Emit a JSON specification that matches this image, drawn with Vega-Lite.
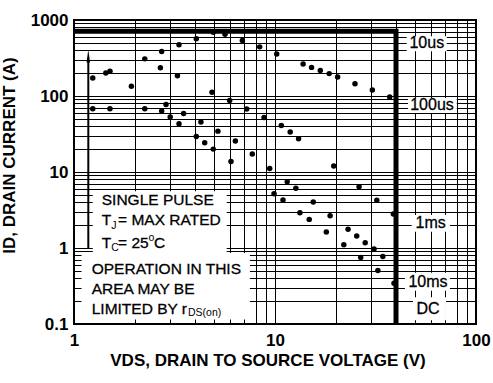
{
  "$schema": "https://vega.github.io/schema/vega-lite/v6.json",
  "width": 402,
  "height": 304,
  "autosize": {"type": "none"},
  "padding": {"left": 74, "top": 20, "right": 17, "bottom": 59},
  "background": "white",
  "config": {
    "view": {"stroke": "#000", "strokeWidth": 2},
    "font": "Liberation Sans",
    "axis": {
      "domain": false, "ticks": false, "tickSize": 0,
      "grid": true, "gridColor": "#000", "gridWidth": 1, "gridOpacity": 1,
      "labelFont": "Liberation Sans", "labelFontSize": 17, "labelFontWeight": "bold", "labelColor": "#000",
      "labelOverlap": false, "labelFlush": false, "labelBound": false,
      "titleFont": "Liberation Sans", "titleFontWeight": "bold", "titleColor": "#000"
    }
  },
  "datasets": {
    "pts": [
      {"V":1.24,"I":173},{"V":1.44,"I":201},{"V":1.51,"I":211},{"V":1.93,"I":134},{"V":2.25,"I":308},{"V":2.73,"I":384},{"V":2.69,"I":236},{"V":3.33,"I":471},{"V":3.27,"I":185},{"V":4.06,"I":565},{"V":4.93,"I":690},{"V":5.64,"I":650},
      {"V":1.24,"I":68},{"V":1.51,"I":68},{"V":2.25,"I":68},{"V":2.87,"I":77.5},{"V":2.73,"I":63.4},{"V":3.01,"I":52.8},{"V":3.51,"I":58.9},{"V":3.33,"I":43.1},{"V":4.86,"I":112},{"V":4.28,"I":45.4},{"V":4.06,"I":29.3},{"V":5.2,"I":34.5},{"V":5.95,"I":87.5},{"V":4.47,"I":24.2},{"V":4.93,"I":20},
      {"V":6.88,"I":537},{"V":8.39,"I":443},{"V":10.2,"I":358},{"V":13.8,"I":264},{"V":15.2,"I":238},{"V":16.8,"I":216},{"V":18.6,"I":197},{"V":20.5,"I":178},{"V":25,"I":145},{"V":30.5,"I":120},{"V":37.2,"I":97},
      {"V":7.23,"I":67.4},{"V":8.82,"I":52.2},{"V":10.75,"I":40.9},{"V":11.9,"I":33.5},{"V":13.1,"I":27.3},{"V":6.35,"I":25.5},{"V":7.71,"I":17.2},{"V":6.04,"I":13.7},{"V":9.41,"I":11.1},{"V":19.6,"I":12},
      {"V":11.5,"I":7.47},{"V":12.7,"I":6.11},{"V":26.2,"I":6.42},{"V":9.89,"I":5.19},{"V":10.96,"I":4.28},{"V":15.5,"I":4.03},{"V":32.1,"I":4.25},{"V":13.3,"I":2.91},{"V":14.8,"I":2.38},{"V":18.8,"I":2.66},{"V":38.8,"I":2.8},
      {"V":18,"I":1.62},{"V":23.1,"I":1.76},{"V":25.5,"I":1.44},{"V":28.1,"I":1.17},{"V":22,"I":1.1},{"V":31.1,"I":0.967},{"V":34.4,"I":0.775},{"V":26.7,"I":0.752},{"V":32.5,"I":0.506},{"V":39.1,"I":0.344}
    ],
    "limit": [{"V":1,"I":710,"o":1},{"V":40,"I":710,"o":2},{"V":40,"I":0.1,"o":3}],
    "boxes": [
      {"V":1.24,"V2":5.75,"I":0.857,"I2":5.6},
      {"V":1.09,"V2":7.5,"I":0.115,"I2":0.857},
      {"V":45.2,"V2":71.5,"I":387,"I2":611},
      {"V":45.9,"V2":80.2,"I":59.7,"I2":94.1},
      {"V":47.9,"V2":74.2,"I":1.64,"I2":2.72},
      {"V":44.3,"V2":74.2,"I":0.274,"I2":0.473},
      {"V":48.6,"V2":70.9,"I":0.112,"I2":0.225}
    ],
    "labels": [
      {"V":56.9,"I":500,"t":"10us"},
      {"V":60.4,"I":75.2,"t":"100us"},
      {"V":59.5,"I":2.11,"t":"1ms"},
      {"V":57.7,"I":0.36,"t":"10ms"},
      {"V":57.7,"I":0.159,"t":"DC"}
    ],
    "notes": [
      {"V":1.374,"I":4.28,"t":"SINGLE PULSE"},
      {"V":1.374,"I":2.33,"t":"T"},
      {"V":1.656,"I":2.33,"t":"= MAX RATED"},
      {"V":1.374,"I":1.16,"t":"T"},
      {"V":1.656,"I":1.16,"t":"= 25"},
      {"V":2.5,"I":1.16,"t":"C"},
      {"V":1.225,"I":0.535,"t":"OPERATION IN THIS"},
      {"V":1.225,"I":0.287,"t":"AREA MAY BE"},
      {"V":1.225,"I":0.156,"t":"LIMITED BY r"}
    ],
    "subs": [
      {"V":1.531,"I":1.945,"t":"J"},
      {"V":1.531,"I":0.997,"t":"C"},
      {"V":2.35,"I":1.35,"t":"o"},
      {"V":3.69,"I":0.138,"t":"DS(on)"}
    ],
    "arrow": [{"V":1.178,"I":1,"I2":300}],
    "head": [{"V":1.178,"I":335}]
  },
  "layer": [
    {
      "data": {"name": "boxes"},
      "mark": {"type": "rect", "fill": "white", "stroke": null},
      "encoding": {
        "x": {"field": "V", "type": "quantitative",
          "scale": {"type": "log", "domain": [1, 100]},
          "axis": {
            "values": [1,2,3,4,5,6,7,8,9,10,20,30,40,50,60,70,80,90,100],
            "format": "~g",
            "labelExpr": "datum.value == 1 || datum.value == 10 || datum.value == 100 ? datum.label : ''",
            "labelPadding": 8,
            "title": "VDS, DRAIN TO SOURCE VOLTAGE (V)",
            "titleFontSize": 17, "titleX": 193.5, "titleY": 28, "titleAlign": "center", "titleBaseline": "top"
          }},
        "x2": {"field": "V2"},
        "y": {"field": "I", "type": "quantitative",
          "scale": {"type": "log", "domain": [0.1, 1000]},
          "axis": {
            "values": [0.1,0.2,0.3,0.4,0.5,0.6,0.7,0.8,0.9,1,2,3,4,5,6,7,8,9,10,20,30,40,50,60,70,80,90,100,200,300,400,500,600,700,800,900,1000],
            "format": "~g",
            "labelExpr": "datum.value == 0.1 || datum.value == 1 || datum.value == 10 || datum.value == 100 || datum.value == 1000 ? datum.label : ''",
            "labelPadding": 6,
            "title": "ID, DRAIN CURRENT (A)",
            "titleFontSize": 17, "titlePadding": 12, "titleY": 135
          }},
        "y2": {"field": "I2"}
      }
    },
    {
      "data": {"name": "pts"},
      "mark": {"type": "point", "filled": true, "shape": "circle", "size": 30, "color": "#000", "opacity": 1},
      "encoding": {
        "x": {"field": "V", "type": "quantitative", "scale": {"type": "log", "domain": [1, 100]}},
        "y": {"field": "I", "type": "quantitative", "scale": {"type": "log", "domain": [0.1, 1000]}}
      }
    },
    {
      "data": {"name": "limit"},
      "mark": {"type": "line", "color": "#000", "strokeWidth": 5, "strokeJoin": "miter", "strokeCap": "butt"},
      "encoding": {
        "x": {"field": "V", "type": "quantitative", "scale": {"type": "log", "domain": [1, 100]}},
        "y": {"field": "I", "type": "quantitative", "scale": {"type": "log", "domain": [0.1, 1000]}},
        "order": {"field": "o"}
      }
    },
    {
      "data": {"name": "arrow"},
      "mark": {"type": "rule", "color": "#000", "strokeWidth": 2},
      "encoding": {
        "x": {"field": "V", "type": "quantitative", "scale": {"type": "log", "domain": [1, 100]}},
        "y": {"field": "I", "type": "quantitative", "scale": {"type": "log", "domain": [0.1, 1000]}},
        "y2": {"field": "I2"}
      }
    },
    {
      "data": {"name": "head"},
      "mark": {"type": "point", "filled": true, "shape": "M0,-1L0.27,1L-0.27,1Z", "size": 169, "color": "#000", "opacity": 1},
      "encoding": {
        "x": {"field": "V", "type": "quantitative", "scale": {"type": "log", "domain": [1, 100]}},
        "y": {"field": "I", "type": "quantitative", "scale": {"type": "log", "domain": [0.1, 1000]}}
      }
    },
    {
      "data": {"name": "labels"},
      "mark": {"type": "text", "font": "Liberation Sans", "fontSize": 16, "align": "center", "baseline": "middle", "color": "#000", "stroke": "#000", "strokeWidth": 0.3},
      "encoding": {
        "x": {"field": "V", "type": "quantitative", "scale": {"type": "log", "domain": [1, 100]}},
        "y": {"field": "I", "type": "quantitative", "scale": {"type": "log", "domain": [0.1, 1000]}},
        "text": {"field": "t"}
      }
    },
    {
      "data": {"name": "notes"},
      "mark": {"type": "text", "font": "Liberation Sans", "fontSize": 15.5, "align": "left", "baseline": "middle", "color": "#000", "stroke": "#000", "strokeWidth": 0.3},
      "encoding": {
        "x": {"field": "V", "type": "quantitative", "scale": {"type": "log", "domain": [1, 100]}},
        "y": {"field": "I", "type": "quantitative", "scale": {"type": "log", "domain": [0.1, 1000]}},
        "text": {"field": "t"}
      }
    },
    {
      "data": {"name": "subs"},
      "mark": {"type": "text", "font": "Liberation Sans", "fontSize": 10.5, "align": "left", "baseline": "middle", "color": "#000"},
      "encoding": {
        "x": {"field": "V", "type": "quantitative", "scale": {"type": "log", "domain": [1, 100]}},
        "y": {"field": "I", "type": "quantitative", "scale": {"type": "log", "domain": [0.1, 1000]}},
        "text": {"field": "t"}
      }
    }
  ]
}
